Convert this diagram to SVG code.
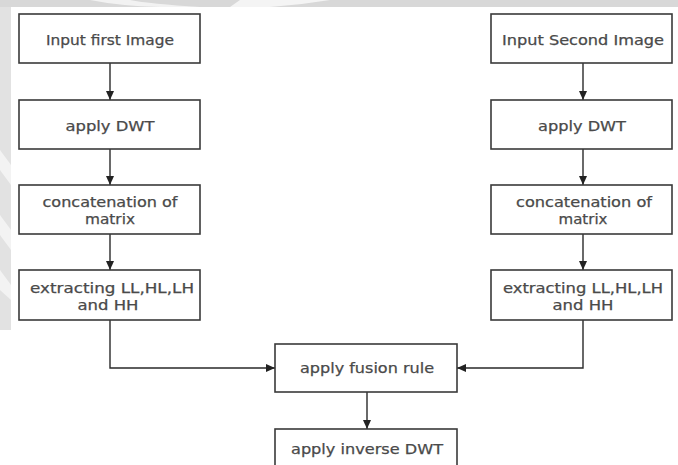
<svg xmlns="http://www.w3.org/2000/svg" width="678" height="465" viewBox="0 0 678 465">
<defs>
<marker id="ah" markerWidth="10" markerHeight="10" refX="9" refY="5" orient="auto" markerUnits="userSpaceOnUse">
<path d="M0,1 L9,5 L0,9 Z" fill="#222"/>
</marker>
<style>
.box{fill:#fff;stroke:#3a3a3a;stroke-width:1.6}
.t{font-family:"DejaVu Sans","Liberation Sans",sans-serif;font-size:13.5px;fill:#4a4a4a;stroke:#4a4a4a;stroke-width:0.25;text-anchor:middle}
.c{fill:none;stroke:#2a2a2a;stroke-width:1.4}
</style>
</defs>
<rect width="678" height="465" fill="#fff"/>
<g id="background">
<rect x="0" y="0" width="678" height="7" fill="#d8d8d8"/>
<path d="M90,0 Q120,6 160,7 L200,7 Q150,4 130,0 Z" fill="#f2f2f2"/>
<path d="M240,0 L330,0 Q300,5 270,7 L230,7 Z" fill="#f4f4f4"/>
<path d="M0,7 L11,7 L11,330 L0,330 Z" fill="#e2e2e2"/>
<path d="M0,150 L11,165 L11,185 L0,170 Z" fill="#f3f3f3"/>
<path d="M0,215 L11,230 L11,250 L0,235 Z" fill="#f3f3f3"/>
<path d="M0,270 L11,285 L11,300 L0,290 Z" fill="#f3f3f3"/>
</g>
<g id="connectors">
<line class="c" x1="110" y1="63" x2="110" y2="100" marker-end="url(#ah)"/>
<line class="c" x1="110" y1="149" x2="110" y2="185" marker-end="url(#ah)"/>
<line class="c" x1="110" y1="234" x2="110" y2="270" marker-end="url(#ah)"/>
<line class="c" x1="583" y1="63" x2="583" y2="100" marker-end="url(#ah)"/>
<line class="c" x1="583" y1="149" x2="583" y2="185" marker-end="url(#ah)"/>
<line class="c" x1="583" y1="234" x2="583" y2="270" marker-end="url(#ah)"/>
<polyline class="c" points="110,320 110,368 275,368" marker-end="url(#ah)"/>
<polyline class="c" points="583,320 583,368 457,368" marker-end="url(#ah)"/>
<line class="c" x1="367" y1="392" x2="367" y2="429" marker-end="url(#ah)"/>
</g>
<g id="n1"><rect class="box" x="19" y="14" width="181" height="49"/><text class="t" x="110" y="45" textLength="128" lengthAdjust="spacingAndGlyphs">Input first Image</text></g>
<g id="n2"><rect class="box" x="19" y="100" width="181" height="49"/><text class="t" x="110" y="131" textLength="89" lengthAdjust="spacingAndGlyphs">apply DWT</text></g>
<g id="n3"><rect class="box" x="19" y="185" width="181" height="49"/><text class="t" x="110" y="207" textLength="135" lengthAdjust="spacingAndGlyphs">concatenation of</text><text class="t" x="110" y="224" textLength="50" lengthAdjust="spacingAndGlyphs">matrix</text></g>
<g id="n4"><rect class="box" x="19" y="270" width="181" height="50"/><text class="t" x="112" y="293" textLength="164" lengthAdjust="spacingAndGlyphs">extracting LL,HL,LH</text><text class="t" x="108" y="310" textLength="61" lengthAdjust="spacingAndGlyphs">and HH</text></g>
<g id="m1"><rect class="box" x="491" y="14" width="181" height="49"/><text class="t" x="583" y="45" textLength="162" lengthAdjust="spacingAndGlyphs">Input Second Image</text></g>
<g id="m2"><rect class="box" x="491" y="100" width="181" height="49"/><text class="t" x="582" y="131" textLength="88" lengthAdjust="spacingAndGlyphs">apply DWT</text></g>
<g id="m3"><rect class="box" x="491" y="185" width="181" height="49"/><text class="t" x="584" y="207" textLength="136" lengthAdjust="spacingAndGlyphs">concatenation of</text><text class="t" x="583" y="224" textLength="49" lengthAdjust="spacingAndGlyphs">matrix</text></g>
<g id="m4"><rect class="box" x="491" y="270" width="181" height="50"/><text class="t" x="583" y="293" textLength="160" lengthAdjust="spacingAndGlyphs">extracting LL,HL,LH</text><text class="t" x="583" y="310" textLength="61" lengthAdjust="spacingAndGlyphs">and HH</text></g>
<g id="fusion"><rect class="box" x="275" y="344" width="182" height="48"/><text class="t" x="367" y="373" textLength="134" lengthAdjust="spacingAndGlyphs">apply fusion rule</text></g>
<g id="inverse"><rect class="box" x="275" y="429" width="182" height="48"/><text class="t" x="367" y="454" textLength="152" lengthAdjust="spacingAndGlyphs">apply inverse DWT</text></g>
</svg>
